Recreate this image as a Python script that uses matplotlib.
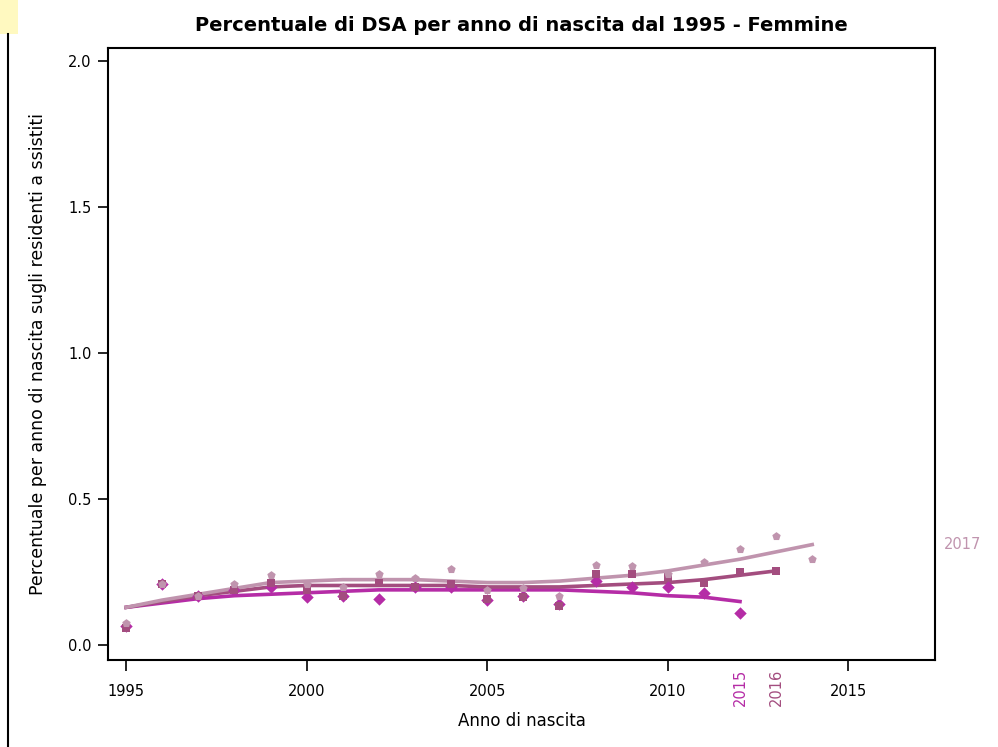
import numpy as np
import matplotlib
matplotlib.use('Agg')
import matplotlib.pyplot as plt
from matplotlib.lines import Line2D
from matplotlib.patches import Rectangle

# anni di nascita
anni = np.arange(1995, 2015)

# punti osservati per anno di prevalenza (2015, 2016, 2017)
punti_2015 = [0.065, 0.21, 0.17, 0.19, 0.20, 0.165, 0.17, 0.16, 0.20, 0.20,
              0.155, 0.17, 0.14, 0.22, 0.20, 0.20, 0.18, 0.11]
punti_2016 = [0.06, 0.21, 0.17, 0.19, 0.215, 0.19, 0.17, 0.215, 0.20, 0.21,
              0.16, 0.165, 0.135, 0.245, 0.245, 0.235, 0.215, 0.25, 0.255]
punti_2017 = [0.075, 0.21, 0.17, 0.21, 0.24, 0.21, 0.20, 0.245, 0.23, 0.26,
              0.19, 0.195, 0.17, 0.275, 0.27, 0.245, 0.285, 0.33, 0.375, 0.295]

# curve lisciate
fit_2015 = [0.13, 0.145, 0.16, 0.17, 0.175, 0.18, 0.185, 0.19, 0.19, 0.19,
            0.19, 0.19, 0.19, 0.185, 0.18, 0.17, 0.165, 0.15]
fit_2016 = [0.13, 0.15, 0.17, 0.185, 0.20, 0.205, 0.205, 0.205, 0.205, 0.205,
            0.20, 0.20, 0.20, 0.205, 0.21, 0.215, 0.225, 0.24, 0.255]
fit_2017 = [0.13, 0.155, 0.175, 0.195, 0.215, 0.22, 0.225, 0.225, 0.225, 0.22,
            0.215, 0.215, 0.22, 0.23, 0.24, 0.255, 0.275, 0.295, 0.32, 0.345]

serie = [('2015', punti_2015, fit_2015, '#b52ca6', 'D'),
         ('2016', punti_2016, fit_2016, '#a34d7f', 's'),
         ('2017', punti_2017, fit_2017, '#c094ae', 'p')]

plt.rcParams['font.family'] = ['DejaVu Sans']

fig = plt.figure(figsize=(9.98, 7.47), dpi=100)
ax = fig.add_axes([0.1082, 0.1165, 0.8287, 0.8193])

for nome, punti, fit, col, mk in serie:
    x = anni[:len(punti)]
    ax.plot(x, fit, color=col, lw=2.6, zorder=2)
    ax.scatter(x, punti, color=col, marker=mk, s=40, zorder=3, linewidths=0)

ax.set_xlim(1994.5, 2017.4)
ax.set_ylim(-0.05, 2.045)
ax.set_xticks([1995, 2000, 2005, 2010, 2015])
ax.set_yticks([0.0, 0.5, 1.0, 1.5, 2.0])
ax.set_yticklabels(['0.0', '0.5', '1.0', '1.5', '2.0'])
ax.tick_params(axis='x', direction='out', length=8, width=1.2, labelsize=10.5, pad=9)
ax.tick_params(axis='y', direction='out', length=7, width=1.2, labelsize=10.5, pad=5)
for s in ax.spines.values():
    s.set_linewidth(1.5)

ax.set_title('Percentuale di DSA per anno di nascita dal 1995 - Femmine',
             fontsize=14, fontweight='bold', pad=12)
ax.set_xlabel('Anno di nascita', fontsize=12, labelpad=10)
ax.set_ylabel('Percentuale per anno di nascita sugli residenti a ssistiti', fontsize=12.5, labelpad=15)

# etichette delle serie
ax.text(2012, -0.08, '2015', rotation=90, color='#b52ca6', fontsize=10.5, ha='center', va='top',
        clip_on=False)
ax.text(2013, -0.08, '2016', rotation=90, color='#a34d7f', fontsize=10.5, ha='center', va='top',
        clip_on=False)
ax.text(2017.65, 0.345, '2017', color='#c094ae', fontsize=10.5, ha='left', va='center', clip_on=False)

# bordo della slide
fig.add_artist(Rectangle((0, 0.955), 0.018, 0.045, transform=fig.transFigure,
                         color='#fff9c0', lw=0))
fig.add_artist(Line2D([0.008, 0.008], [0, 0.955], transform=fig.transFigure, color='black', lw=1.5))

fig.savefig('out.png', dpi=100)
